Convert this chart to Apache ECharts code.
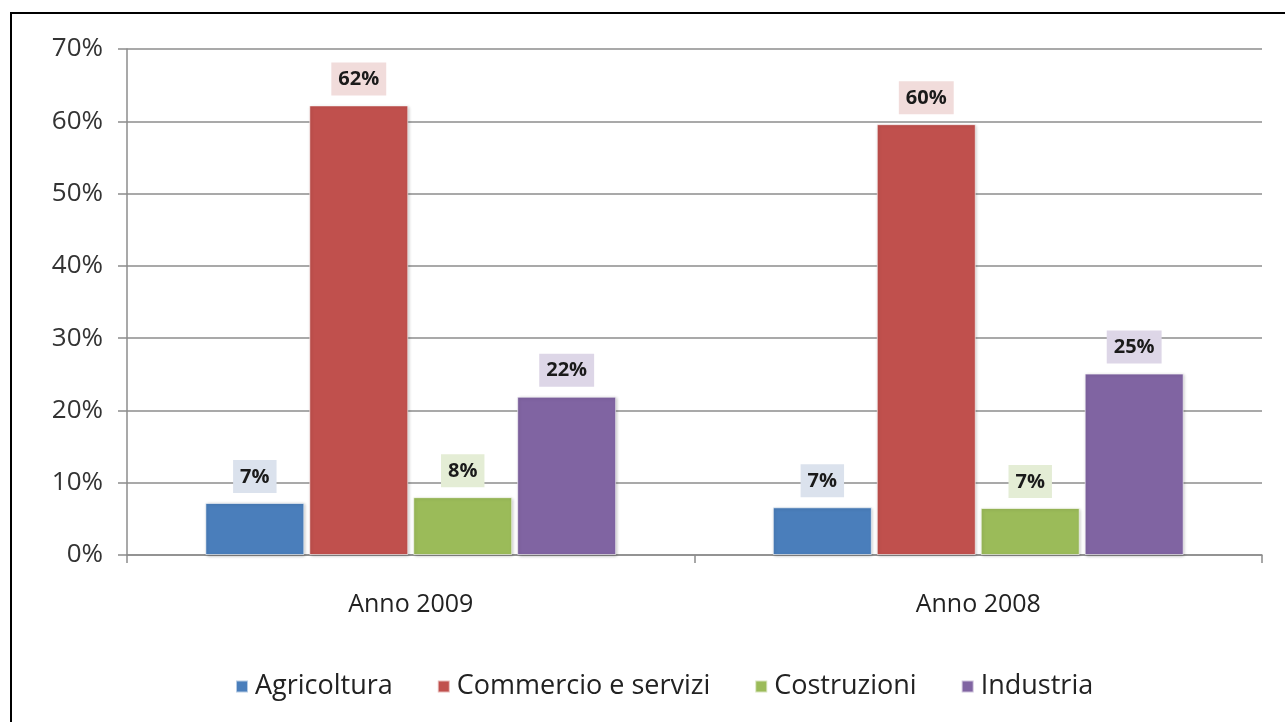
<!DOCTYPE html>
<html>
<head>
<meta charset="utf-8">
<script src="https://cdn.jsdelivr.net/npm/echarts@6/dist/echarts.min.js"></script>
<style>
  html, body { margin: 0; padding: 0; background: #ffffff; }
  #chart { width: 1285px; height: 722px; }
</style>
</head>
<body>
<div id="chart"></div>
<script>
// Sector shares of businesses, by year (percent)
const years = ['Anno 2009', 'Anno 2008'];
const agricoltura = [7.2, 6.6];
const commercio = [62.2, 59.6];
const costruzioni = [8.0, 6.5];
const industria = [21.9, 25.1];
const yTicks = [0, 10, 20, 30, 40, 50, 60, 70];

const FONT = '"Open Sans", "Noto Sans", sans-serif';

function makeSeries(name, data, color, labelBg) {
  return {
    name: name,
    type: 'bar',
    data: data,
    barWidth: 99,
    barGap: '5%',
    itemStyle: {
      color: color,
      borderColor: 'rgba(255,255,255,0.6)',
      borderWidth: 1,
      shadowBlur: 3,
      shadowOffsetX: 1,
      shadowOffsetY: 1,
      shadowColor: 'rgba(0,0,0,0.25)'
    },
    label: {
      show: true,
      position: 'top',
      distance: 10,
      formatter: p => Math.round(p.value) + '%',
      fontFamily: FONT,
      fontWeight: 'bold',
      fontSize: 20,
      color: '#1a1a1a',
      backgroundColor: labelBg,
      padding: [7, 7, 6, 7]
    }
  };
}

const chart = echarts.init(document.getElementById('chart'), null, { renderer: 'canvas' });
chart.setOption({
  animation: false,
  backgroundColor: '#ffffff',
  graphic: [{
    type: 'rect',
    shape: { x: 11, y: 13, width: 1400, height: 800 },
    style: { fill: 'none', stroke: '#000000', lineWidth: 2 },
    silent: true
  }],
  grid: { left: 127, right: 23, top: 49, bottom: 167 },
  legend: {
    bottom: 17,
    left: 230,
    itemWidth: 12,
    itemHeight: 12,
    itemGap: 44,
    icon: 'rect',
    textStyle: { fontFamily: FONT, fontSize: 27, color: '#222222', padding: [0, 0, 0, 2] },
    data: ['Agricoltura', 'Commercio e servizi', 'Costruzioni', 'Industria']
  },
  xAxis: {
    type: 'category',
    data: years,
    axisLine: { lineStyle: { color: '#8c8c8c', width: 1.5 } },
    axisTick: { show: true, length: 8, lineStyle: { color: '#8c8c8c', width: 1.5 } },
    axisLabel: { fontFamily: FONT, fontSize: 25, color: '#222222', margin: 37 }
  },
  yAxis: {
    type: 'value',
    min: yTicks[0],
    max: yTicks[yTicks.length - 1],
    interval: 10,
    axisLine: { show: true, lineStyle: { color: '#8c8c8c', width: 1.5 } },
    axisTick: { show: true, length: 9, lineStyle: { color: '#8c8c8c', width: 1.5 } },
    splitLine: { lineStyle: { color: '#8c8c8c', width: 1.5 } },
    axisLabel: {
      fontFamily: FONT, fontSize: 26, color: '#333333', margin: 24,
      formatter: v => v + '%'
    }
  },
  series: [
    makeSeries('Agricoltura', agricoltura, '#4a7ebb', '#dbe2ed'),
    makeSeries('Commercio e servizi', commercio, '#c0504d', '#f1dcdb'),
    makeSeries('Costruzioni', costruzioni, '#9bbb59', '#e4edd5'),
    makeSeries('Industria', industria, '#8064a2', '#ddd6e7')
  ]
});
</script>
</body>
</html>
